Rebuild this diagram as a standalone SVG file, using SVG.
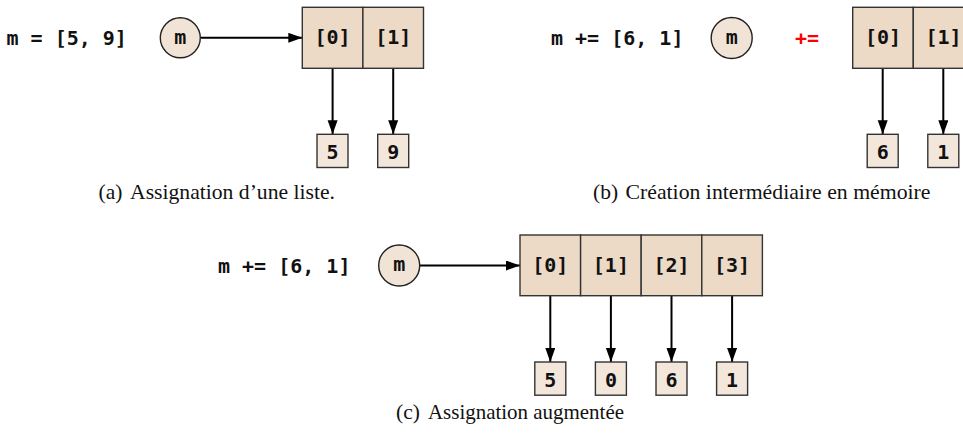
<svg xmlns="http://www.w3.org/2000/svg" width="963" height="434" viewBox="0 0 963 434">
<style>
.code{font-family:"DejaVu Sans Mono","Liberation Mono",monospace;font-weight:bold;font-size:20px;fill:#111}
.cell{fill:#ecd9c6;stroke:#333;stroke-width:1.4}
.val{fill:#f3e7db;stroke:#333;stroke-width:1.4}
.var{fill:#f1e4d6;stroke:#222;stroke-width:1.4}
.cap{font-family:"Liberation Serif","DejaVu Serif",serif;font-size:21.5px;fill:#111}
.arr{stroke:#000;stroke-width:2;fill:none;marker-end:url(#ah)}
.mid{text-anchor:middle}
</style>
<defs>
<marker id="ah" markerUnits="userSpaceOnUse" markerWidth="15" markerHeight="11" refX="14" refY="5" orient="auto">
<path d="M0,0 L14,5 L0,10 z" fill="#000"/>
</marker>
</defs>
<g id="connectors">
<line class="arr" x1="200.5" y1="37.8" x2="302.3" y2="37.8"/>
<line class="arr" x1="332.6" y1="68.3" x2="332.6" y2="134.3"/>
<line class="arr" x1="393.2" y1="68.3" x2="393.2" y2="134.3"/>
<line class="arr" x1="882.7" y1="68.3" x2="882.7" y2="134.3"/>
<line class="arr" x1="943.3" y1="68.3" x2="943.3" y2="134.3"/>
<line class="arr" x1="420" y1="265.5" x2="520" y2="265.5"/>
<line class="arr" x1="550.3" y1="295.7" x2="550.3" y2="362"/>
<line class="arr" x1="610.9" y1="295.7" x2="610.9" y2="362"/>
<line class="arr" x1="671.5" y1="295.7" x2="671.5" y2="362"/>
<line class="arr" x1="732.1" y1="295.7" x2="732.1" y2="362"/>
</g>
<g id="label-a"><text class="code" x="6.5" y="45">m = [5, 9]</text></g>
<g id="var-a"><circle class="var" cx="180.3" cy="37.8" r="20"/><text class="code mid" x="180.3" y="43.5" font-size="17">m</text></g>
<g id="list-a">
<rect class="cell" x="302.3" y="7.3" width="60.6" height="61"/>
<rect class="cell" x="362.9" y="7.3" width="60.6" height="61"/>
<text class="code mid" x="332.6" y="44.3">[0]</text>
<text class="code mid" x="393.2" y="44.3">[1]</text>
</g>
<g id="val-a-5"><rect class="val" x="317" y="134.3" width="31" height="33.2"/><text class="code mid" x="332.6" y="158.8">5</text></g>
<g id="val-a-9"><rect class="val" x="377.7" y="134.3" width="31" height="33.2"/><text class="code mid" x="393.2" y="158.8">9</text></g>
<g id="cap-a"><text class="cap" x="98.5" y="199">(a)</text><text class="cap" x="130" y="199" textLength="205" lengthAdjust="spacingAndGlyphs">Assignation d’une liste.</text></g>

<g id="label-b"><text class="code" x="551" y="45">m += [6, 1]</text></g>
<g id="var-b"><circle class="var" cx="731.7" cy="38" r="20.5"/><text class="code mid" x="731.7" y="43.7" font-size="17">m</text></g>
<g id="op-b"><text class="code mid" x="807" y="45" style="fill:#ff0000">+=</text></g>
<g id="list-b">
<rect class="cell" x="852.7" y="7.3" width="60.6" height="61"/>
<rect class="cell" x="913.3" y="7.3" width="60.6" height="61"/>
<text class="code mid" x="883" y="44.3">[0]</text>
<text class="code mid" x="943.6" y="44.3">[1]</text>
</g>
<g id="val-b-6"><rect class="val" x="867.2" y="134.3" width="31" height="33.2"/><text class="code mid" x="882.7" y="158.8">6</text></g>
<g id="val-b-1"><rect class="val" x="927.8" y="134.3" width="31" height="33.2"/><text class="code mid" x="943.3" y="158.8">1</text></g>
<g id="cap-b"><text class="cap" x="593" y="199">(b)</text><text class="cap" x="625.5" y="199" textLength="305" lengthAdjust="spacingAndGlyphs">Création intermédiaire en mémoire</text></g>

<g id="label-c"><text class="code" x="218" y="272.5">m += [6, 1]</text></g>
<g id="var-c"><circle class="var" cx="399.2" cy="265.5" r="20.5"/><text class="code mid" x="399.2" y="271.2" font-size="17">m</text></g>
<g id="list-c">
<rect class="cell" x="520" y="235" width="60.6" height="60.7"/>
<rect class="cell" x="580.6" y="235" width="60.6" height="60.7"/>
<rect class="cell" x="641.2" y="235" width="60.6" height="60.7"/>
<rect class="cell" x="701.8" y="235" width="60.6" height="60.7"/>
<text class="code mid" x="550.3" y="272">[0]</text>
<text class="code mid" x="610.9" y="272">[1]</text>
<text class="code mid" x="671.5" y="272">[2]</text>
<text class="code mid" x="732.1" y="272">[3]</text>
</g>
<g id="val-c-5"><rect class="val" x="534.8" y="362" width="31" height="33.2"/><text class="code mid" x="550.3" y="386.5">5</text></g>
<g id="val-c-0"><rect class="val" x="595.4" y="362" width="31" height="33.2"/><text class="code mid" x="610.9" y="386.5">0</text></g>
<g id="val-c-6"><rect class="val" x="656" y="362" width="31" height="33.2"/><text class="code mid" x="671.5" y="386.5">6</text></g>
<g id="val-c-1"><rect class="val" x="716.6" y="362" width="31" height="33.2"/><text class="code mid" x="732.1" y="386.5">1</text></g>
<g id="cap-c"><text class="cap" x="396" y="419">(c)</text><text class="cap" x="428" y="419" textLength="196" lengthAdjust="spacingAndGlyphs">Assignation augmentée</text></g>
</svg>
